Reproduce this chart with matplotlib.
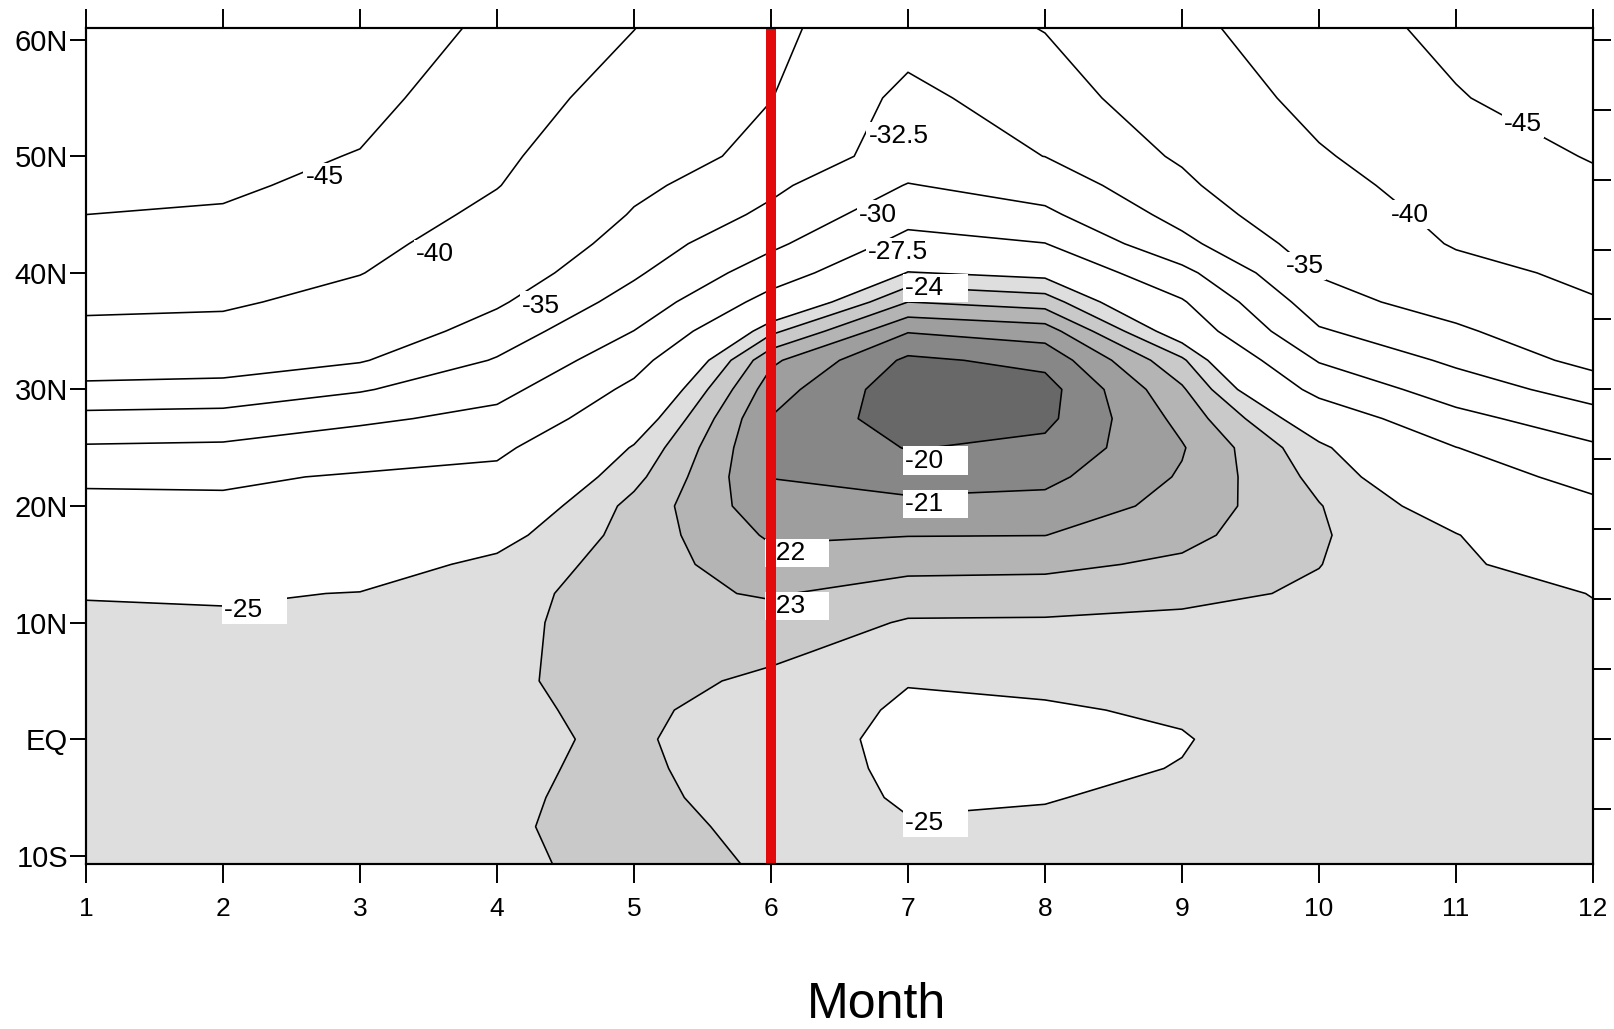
import numpy as np
import matplotlib
matplotlib.use("Agg")
import matplotlib.pyplot as plt

plt.rcParams['font.family'] = ['Liberation Sans', 'DejaVu Sans']

# ---------------- data ----------------
months = [1, 2, 3, 4, 5, 6, 7, 8, 9, 10, 11, 12]
lats = [-11, -7.5, -5, -2.5, 0, 2.5, 5, 7.5, 10, 12.5, 15, 17.5, 20, 22.5,
        25, 27.5, 30, 32.5, 35, 37.5, 40, 42.5, 45, 47.5, 50, 55, 61]

# one column of values (south -> north) per month
m01 = [-24.6, -24.6, -24.6, -24.6, -24.6, -24.62, -24.65, -24.75, -24.9, -25.03,
       -25.8, -26.5, -27.2, -27.7, -29.75, -31.8, -34.3, -36.7, -39.05, -40.83,
       -42.2, -43.6, -45.0, -45.8, -46.6, -48.1, -50.0]
m02 = [-24.55, -24.55, -24.55, -24.55, -24.55, -24.58, -24.6, -24.72, -24.88, -25.09,
       -25.75, -26.42, -27.15, -27.8, -29.6, -31.64, -34.06, -36.45, -38.73, -40.6,
       -41.95, -43.3, -44.67, -45.55, -46.29, -47.75, -49.5]
m03 = [-24.5, -24.5, -24.5, -24.5, -24.5, -24.52, -24.55, -24.65, -24.8, -24.97,
       -25.5, -26.1, -26.7, -27.3, -28.6, -30.45, -32.71, -35.2, -36.87, -38.53,
       -40.13, -41.23, -42.33, -44.0, -44.8, -46.38, -48.5]
m04 = [-24.2, -24.2, -24.2, -24.2, -24.2, -24.2, -24.2, -24.25, -24.35, -24.55,
       -24.75, -25.41, -26.19, -26.97, -27.93, -29.29, -30.75, -32.31, -33.88, -35.34,
       -36.57, -37.79, -39.02, -40.14, -40.82, -42.19, -43.83]
m05 = [-23.72, -23.49, -23.64, -23.77, -23.85, -23.75, -23.55, -23.49, -23.35, -23.24,
       -23.5, -23.6, -23.7, -24.3, -24.89, -25.88, -26.97, -28.36, -29.97, -31.52,
       -32.85, -33.81, -34.77, -35.63, -36.45, -38.09, -40.07]
m06 = [-24.07, -24.4, -24.62, -24.68, -24.72, -24.6, -24.25, -23.75, -23.3, -22.92,
       -22.38, -21.85, -21.33, -20.98, -20.92, -20.96, -21.45, -22.2, -24.25, -26.6,
       -28.7, -30.5, -32.0, -33.0, -34.2, -35.05, -35.45]
m07 = [-24.6, -24.95, -25.08, -25.13, -25.15, -25.1, -24.97, -24.6, -24.1, -23.43,
       -22.71, -21.97, -21.24, -20.58, -19.95, -19.45, -19.35, -19.8, -21.07, -23.0,
       -24.94, -26.71, -28.35, -29.88, -31.4, -31.92, -33.5]
m08 = [-24.75, -24.9, -25.03, -25.2, -25.25, -25.08, -24.85, -24.5, -24.12, -23.47,
       -22.76, -21.99, -21.32, -20.75, -20.25, -19.75, -19.6, -20.29, -21.5, -23.46,
       -25.34, -27.45, -29.52, -31.1, -32.52, -33.7, -35.1]
m09 = [-24.7, -24.8, -24.85, -24.97, -25.05, -24.9, -24.7, -24.45, -24.2, -23.77,
       -23.19, -22.7, -22.35, -22.1, -21.92, -22.3, -22.85, -23.8, -25.81, -27.27,
       -29.31, -31.85, -33.33, -34.43, -35.35, -36.83, -38.6]
m10 = [-24.6, -24.6, -24.6, -24.55, -24.5, -24.45, -24.4, -24.35, -24.25, -24.12,
       -23.98, -23.9, -23.95, -24.3, -24.75, -25.98, -28.15, -30.17, -32.25, -33.81,
       -35.22, -36.3, -37.39, -38.48, -39.57, -41.4, -43.5]
m11 = [-24.6, -24.6, -24.6, -24.6, -24.6, -24.6, -24.6, -24.6, -24.6, -24.65,
       -24.78, -24.95, -25.68, -26.57, -27.46, -29.26, -31.17, -32.98, -34.46, -36.43,
       -38.66, -40.35, -41.24, -42.13, -43.01, -44.79, -45.84]
m12 = [-24.6, -24.6, -24.6, -24.6, -24.6, -24.6, -24.6, -24.7, -24.9, -25.02,
       -25.77, -26.44, -27.1, -28.11, -29.63, -31.48, -33.61, -35.78, -37.73, -39.69,
       -40.93, -42.04, -43.14, -44.25, -45.24, -46.72, -48.5]

line_levels = [-45, -40, -35, -32.5, -30, -27.5, -25, -24, -23, -22, -21, -20]
fill_levels = [-60, -25, -24, -23, -22, -21, -20, -10]
fill_colors = ['#ffffff', '#dedede', '#c9c9c9', '#b4b4b4', '#9e9e9e', '#878787', '#686868']

x_ticks = months
y_ticks = [60, 50, 40, 30, 20, 10, 0, -10]
y_ticklabels = ['60N', '50N', '40N', '30N', '20N', '10N', 'EQ', '10S']
right_ticks = [-6, 0, 6, 12, 18, 24, 30, 36, 42, 48, 54, 60]

# contour labels in open (white) area: (level, month, latitude) = text centre
open_labels = [(-45, 2.74, 48.2), (-40, 3.55, 41.6), (-35, 4.32, 37.2),
               (-32.5, 6.93, 51.7), (-30, 6.78, 45.0), (-27.5, 6.93, 41.8),
               (-45, 11.49, 52.8), (-40, 10.66, 45.0), (-35, 9.9, 40.6)]
# contour labels in shaded area: (level, month, latitude) = left edge of box
boxed_labels = [(-24, 6.98, 38.7), (-20, 6.98, 23.9), (-21, 6.98, 20.2),
                (-22, 5.97, 16.0), (-23, 5.97, 11.4), (-25, 2.01, 11.1),
                (-25, 6.98, -7.2)]
marked_month = 6

# ---------------- figure ----------------
field = np.column_stack([m01, m02, m03, m04, m05, m06, m07, m08, m09, m10, m11, m12])

fig = plt.figure(figsize=(16.14, 10.29), dpi=100)
ax = fig.add_axes([0.05328, 0.16035, 0.93371, 0.81244])

ax.contourf(months, lats, field, levels=fill_levels, colors=fill_colors, zorder=1)
ax.contour(months, lats, field, levels=line_levels, colors='black',
           linewidths=1.15, linestyles='solid', zorder=2)

box = dict(boxstyle='square,pad=0.08', fc='white', ec='none')
for lev, xm, yl in open_labels:
    ax.text(xm, yl, f'{lev:g}', ha='center', va='center', fontsize=19,
            bbox=box, zorder=4)
for lev, xm, yl in boxed_labels:
    ax.text(xm, yl, f'{lev:g}   ', ha='left', va='center', fontsize=19,
            bbox=box, zorder=4)

ax.axvline(marked_month, color='#e20a0a', lw=7.2, zorder=6)

ax.set_xlim(1, 12)
ax.set_ylim(-10.7, 61.0)
ax.set_xticks(x_ticks)
ax.set_xticklabels([str(m) for m in x_ticks])
ax.set_yticks(y_ticks)
ax.set_yticklabels(y_ticklabels)
ax.tick_params(axis='x', direction='out', length=13.5, width=1.4, top=True,
               labeltop=False, labelsize=19, pad=10)
ax.tick_params(axis='y', direction='out', length=11.5, width=1.4, right=False,
               labelsize=21, pad=1.5)
for s in ax.spines.values():
    s.set_linewidth(1.5)

ax2 = ax.twinx()
ax2.set_ylim(-10.7, 61.0)
ax2.set_yticks(right_ticks)
ax2.tick_params(axis='y', direction='out', length=13, width=1.4, labelright=False)
for s in ax2.spines.values():
    s.set_linewidth(1.5)

fig.text(0.5428, 0.011, 'Month', ha='center', va='baseline', fontsize=36)

fig.savefig('out.png', dpi=100)
